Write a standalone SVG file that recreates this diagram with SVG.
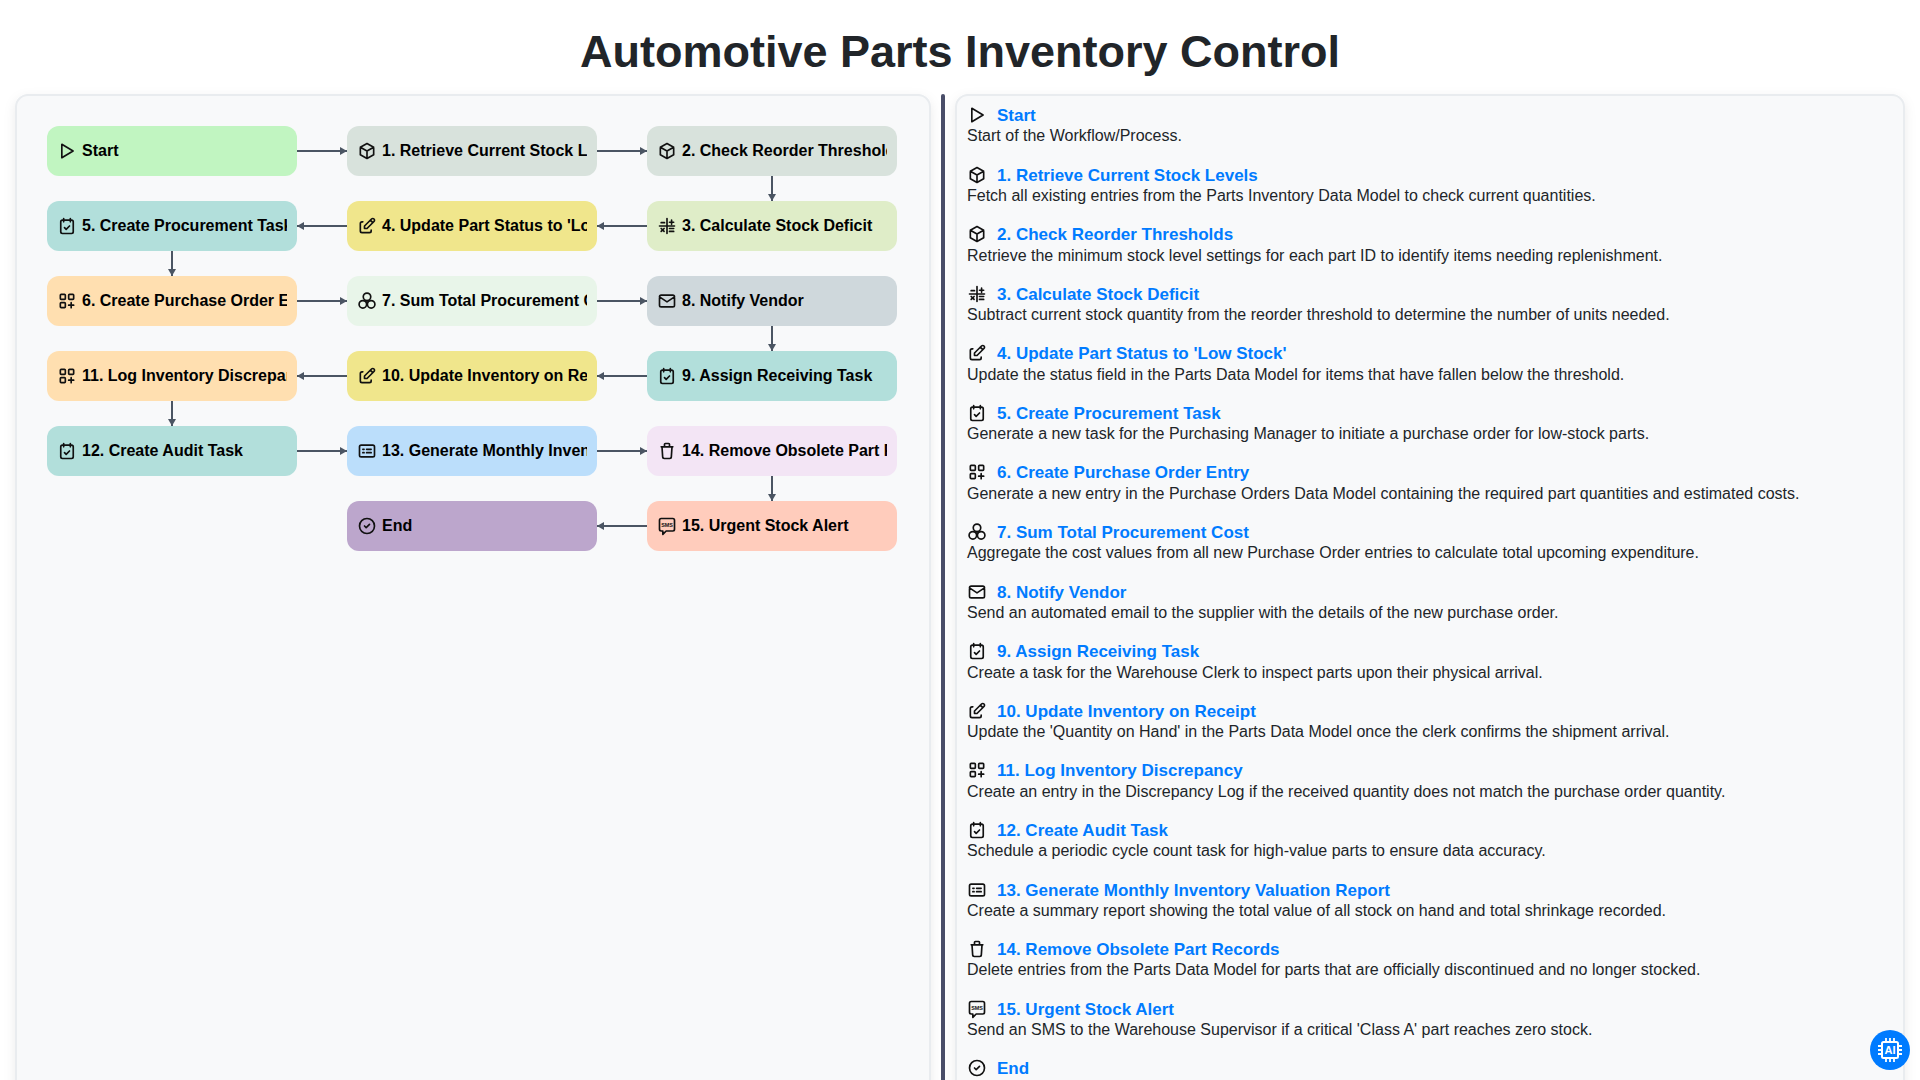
<svg xmlns="http://www.w3.org/2000/svg" width="1920" height="1080" viewBox="0 0 1920 1080">
<style>
text{font-family:"Liberation Sans",Arial,sans-serif}
.title{font-size:45px;font-weight:700;fill:#212529;text-anchor:middle}
.panel{fill:#f8f9fa;stroke:#e9ecef;stroke-width:2;filter:url(#sh)}
.lbl{font-size:16px;font-weight:700;fill:#000}
.h{font-size:17px;font-weight:700;fill:#007bff}
.d{font-size:16px;fill:#212529}
.ic{fill:none;stroke:#111;stroke-width:2;stroke-linecap:round;stroke-linejoin:round}
.c{fill:none;stroke:#4b5563;stroke-width:2}
</style>
<defs>
<filter id="sh" x="-5%" y="-5%" width="110%" height="110%"><feDropShadow dx="0" dy="4" stdDeviation="6" flood-color="#000" flood-opacity="0.08"/></filter>
<marker id="ah" markerUnits="userSpaceOnUse" viewBox="0 0 7 8" refX="7" refY="4" markerWidth="7" markerHeight="8" orient="auto"><path d="M0 0L7 4L0 8z" fill="#4b5563"/></marker>
<clipPath id="c1"><rect x="47" y="126" width="240" height="425"/></clipPath>
<clipPath id="c2"><rect x="347" y="126" width="240" height="425"/></clipPath>
<clipPath id="c3"><rect x="647" y="126" width="240" height="425"/></clipPath>
<symbol id="i-play" viewBox="0 0 24 24"><path class="ic" d="M5.800 4v16l13.500-8z"/></symbol>
<symbol id="i-box" viewBox="0 0 24 24"><path class="ic" d="M12 3l8 4.500v9L12 21l-8-4.500v-9zM12 12l8-4.500M12 12v9M12 12L4 7.500"/></symbol>
<symbol id="i-calc" viewBox="0 0 24 24"><path class="ic" d="M3 12h18M12 3v18M5 8h4M15 7.500h5M17.500 5v5M15 15h5M15 18.500h5M5 15l3.500 3.500M8.500 15L5 18.500"/></symbol>
<symbol id="i-edit" viewBox="0 0 24 24"><path class="ic" d="M7 7H6a2 2 0 0 0-2 2v9a2 2 0 0 0 2 2h9a2 2 0 0 0 2-2v-1M20.385 6.585a2.100 2.100 0 0 0-2.970-2.970L9 12v3h3zM16 5l3 3"/></symbol>
<symbol id="i-cal" viewBox="0 0 24 24"><path class="ic" d="M4.500 7a2 2 0 0 1 2-2h11a2 2 0 0 1 2 2v12a2 2 0 0 1-2 2h-11a2 2 0 0 1-2-2zM16 3v4M8 3v4M9 14l2 2 4-4"/></symbol>
<symbol id="i-cat" viewBox="0 0 24 24"><path class="ic" d="M5 4h4a1 1 0 0 1 1 1v4a1 1 0 0 1-1 1H5a1 1 0 0 1-1-1V5a1 1 0 0 1 1-1zM15 4h4a1 1 0 0 1 1 1v4a1 1 0 0 1-1 1h-4a1 1 0 0 1-1-1V5a1 1 0 0 1 1-1zM5 14h4a1 1 0 0 1 1 1v4a1 1 0 0 1-1 1H5a1 1 0 0 1-1-1v-4a1 1 0 0 1 1-1zM14 17h6M17 14v6"/></symbol>
<symbol id="i-sum" viewBox="0 0 24 24"><g class="ic"><circle cx="12" cy="7" r="4.500"/><circle cx="7" cy="16" r="4.500"/><circle cx="17" cy="16" r="4.500"/><path d="M12 11.500v5"/></g></symbol>
<symbol id="i-mail" viewBox="0 0 24 24"><path class="ic" d="M3 7a2 2 0 0 1 2-2h14a2 2 0 0 1 2 2v10a2 2 0 0 1-2 2H5a2 2 0 0 1-2-2zM3 7l9 6 9-6"/></symbol>
<symbol id="i-rep" viewBox="0 0 24 24"><path class="ic" d="M3 7a2 2 0 0 1 2-2h14a2 2 0 0 1 2 2v10a2 2 0 0 1-2 2H5a2 2 0 0 1-2-2zM7 10h1.500M11.500 10H17M7 14h1.500M11.500 14H17"/></symbol>
<symbol id="i-trash" viewBox="0 0 24 24"><path class="ic" d="M5 7h14M6 7l.800 12a2 2 0 0 0 2 2h6.400a2 2 0 0 0 2-2L18 7M9 7V4a1 1 0 0 1 1-1h4a1 1 0 0 1 1 1v3"/></symbol>
<symbol id="i-sms" viewBox="0 0 24 24"><path class="ic" d="M5 3h14a2 2 0 0 1 2 2v11a2 2 0 0 1-2 2h-8l-4 4v-4H5a2 2 0 0 1-2-2V5a2 2 0 0 1 2-2z"/><text x="12" y="13" text-anchor="middle" font-size="6.500" font-weight="700" fill="#111">SMS</text></symbol>
<symbol id="i-check" viewBox="0 0 24 24"><path class="ic" d="M3 12a9 9 0 1 0 18 0a9 9 0 1 0-18 0M9 12l2 2 4-4"/></symbol>
</defs>
<rect width="1920" height="1080" fill="#fff"/>
<text class="title" x="960" y="67">Automotive Parts Inventory Control</text>
<rect class="panel" x="16" y="95" width="914" height="1040" rx="12"/>
<rect x="941" y="94" width="4" height="1000" rx="2" fill="#4a4e69"/>
<rect class="panel" x="956" y="95" width="948" height="1040" rx="12"/>
<g id="connectors">
<path class="c" marker-end="url(#ah)" d="M297 151H347"/>
<path class="c" marker-end="url(#ah)" d="M597 151H647"/>
<path class="c" marker-end="url(#ah)" d="M772 176V201"/>
<path class="c" marker-end="url(#ah)" d="M647 226H597"/>
<path class="c" marker-end="url(#ah)" d="M347 226H297"/>
<path class="c" marker-end="url(#ah)" d="M172 251V276"/>
<path class="c" marker-end="url(#ah)" d="M297 301H347"/>
<path class="c" marker-end="url(#ah)" d="M597 301H647"/>
<path class="c" marker-end="url(#ah)" d="M772 326V351"/>
<path class="c" marker-end="url(#ah)" d="M647 376H597"/>
<path class="c" marker-end="url(#ah)" d="M347 376H297"/>
<path class="c" marker-end="url(#ah)" d="M172 401V426"/>
<path class="c" marker-end="url(#ah)" d="M297 451H347"/>
<path class="c" marker-end="url(#ah)" d="M597 451H647"/>
<path class="c" marker-end="url(#ah)" d="M772 476V501"/>
<path class="c" marker-end="url(#ah)" d="M647 526H597"/>
</g>
<g id="n-start"><rect x="47" y="126" width="250" height="50" rx="12" fill="#c1f5c1"/><use href="#i-play" x="57" y="141" width="20" height="20"/><text class="lbl" x="82" y="156" clip-path="url(#c1)">Start</text></g>
<g id="n-1"><rect x="347" y="126" width="250" height="50" rx="12" fill="#d8e2dc"/><use href="#i-box" x="357" y="141" width="20" height="20"/><text class="lbl" x="382" y="156" clip-path="url(#c2)">1. Retrieve Current Stock Levels</text></g>
<g id="n-2"><rect x="647" y="126" width="250" height="50" rx="12" fill="#d8e2dc"/><use href="#i-box" x="657" y="141" width="20" height="20"/><text class="lbl" x="682" y="156" clip-path="url(#c3)">2. Check Reorder Thresholds</text></g>
<g id="n-3"><rect x="647" y="201" width="250" height="50" rx="12" fill="#dfedc8"/><use href="#i-calc" x="657" y="216" width="20" height="20"/><text class="lbl" x="682" y="231" clip-path="url(#c3)">3. Calculate Stock Deficit</text></g>
<g id="n-4"><rect x="347" y="201" width="250" height="50" rx="12" fill="#f0e68c"/><use href="#i-edit" x="357" y="216" width="20" height="20"/><text class="lbl" x="382" y="231" clip-path="url(#c2)">4. Update Part Status to 'Low Stock'</text></g>
<g id="n-5"><rect x="47" y="201" width="250" height="50" rx="12" fill="#b2dfdb"/><use href="#i-cal" x="57" y="216" width="20" height="20"/><text class="lbl" x="82" y="231" clip-path="url(#c1)">5. Create Procurement Task</text></g>
<g id="n-6"><rect x="47" y="276" width="250" height="50" rx="12" fill="#ffdfb0"/><use href="#i-cat" x="57" y="291" width="20" height="20"/><text class="lbl" x="82" y="306" clip-path="url(#c1)">6. Create Purchase Order Entry</text></g>
<g id="n-7"><rect x="347" y="276" width="250" height="50" rx="12" fill="#e8f5e9"/><use href="#i-sum" x="357" y="291" width="20" height="20"/><text class="lbl" x="382" y="306" clip-path="url(#c2)">7. Sum Total Procurement Cost</text></g>
<g id="n-8"><rect x="647" y="276" width="250" height="50" rx="12" fill="#cfd8dc"/><use href="#i-mail" x="657" y="291" width="20" height="20"/><text class="lbl" x="682" y="306" clip-path="url(#c3)">8. Notify Vendor</text></g>
<g id="n-9"><rect x="647" y="351" width="250" height="50" rx="12" fill="#b2dfdb"/><use href="#i-cal" x="657" y="366" width="20" height="20"/><text class="lbl" x="682" y="381" clip-path="url(#c3)">9. Assign Receiving Task</text></g>
<g id="n-10"><rect x="347" y="351" width="250" height="50" rx="12" fill="#f0e68c"/><use href="#i-edit" x="357" y="366" width="20" height="20"/><text class="lbl" x="382" y="381" clip-path="url(#c2)">10. Update Inventory on Receipt</text></g>
<g id="n-11"><rect x="47" y="351" width="250" height="50" rx="12" fill="#ffdfb0"/><use href="#i-cat" x="57" y="366" width="20" height="20"/><text class="lbl" x="82" y="381" clip-path="url(#c1)">11. Log Inventory Discrepancy</text></g>
<g id="n-12"><rect x="47" y="426" width="250" height="50" rx="12" fill="#b2dfdb"/><use href="#i-cal" x="57" y="441" width="20" height="20"/><text class="lbl" x="82" y="456" clip-path="url(#c1)">12. Create Audit Task</text></g>
<g id="n-13"><rect x="347" y="426" width="250" height="50" rx="12" fill="#bbdefb"/><use href="#i-rep" x="357" y="441" width="20" height="20"/><text class="lbl" x="382" y="456" clip-path="url(#c2)">13. Generate Monthly Inventory</text></g>
<g id="n-14"><rect x="647" y="426" width="250" height="50" rx="12" fill="#f3e5f5"/><use href="#i-trash" x="657" y="441" width="20" height="20"/><text class="lbl" x="682" y="456" clip-path="url(#c3)">14. Remove Obsolete Part Records</text></g>
<g id="n-15"><rect x="647" y="501" width="250" height="50" rx="12" fill="#ffccbc"/><use href="#i-sms" x="657" y="516" width="20" height="20"/><text class="lbl" x="682" y="531" clip-path="url(#c3)">15. Urgent Stock Alert</text></g>
<g id="n-end"><rect x="347" y="501" width="250" height="50" rx="12" fill="#bca6cc"/><use href="#i-check" x="357" y="516" width="20" height="20"/><text class="lbl" x="382" y="531" clip-path="url(#c2)">End</text></g>
<g id="legend">
<use href="#i-play" x="967" y="105" width="20" height="20"/><text class="h" x="997" y="121">Start</text><text class="d" x="967" y="141">Start of the Workflow/Process.</text>
<use href="#i-box" x="967" y="165" width="20" height="20"/><text class="h" x="997" y="181">1. Retrieve Current Stock Levels</text><text class="d" x="967" y="201">Fetch all existing entries from the Parts Inventory Data Model to check current quantities.</text>
<use href="#i-box" x="967" y="224" width="20" height="20"/><text class="h" x="997" y="240">2. Check Reorder Thresholds</text><text class="d" x="967" y="261">Retrieve the minimum stock level settings for each part ID to identify items needing replenishment.</text>
<use href="#i-calc" x="967" y="284" width="20" height="20"/><text class="h" x="997" y="300">3. Calculate Stock Deficit</text><text class="d" x="967" y="320">Subtract current stock quantity from the reorder threshold to determine the number of units needed.</text>
<use href="#i-edit" x="967" y="343" width="20" height="20"/><text class="h" x="997" y="359">4. Update Part Status to 'Low Stock'</text><text class="d" x="967" y="380">Update the status field in the Parts Data Model for items that have fallen below the threshold.</text>
<use href="#i-cal" x="967" y="403" width="20" height="20"/><text class="h" x="997" y="419">5. Create Procurement Task</text><text class="d" x="967" y="439">Generate a new task for the Purchasing Manager to initiate a purchase order for low-stock parts.</text>
<use href="#i-cat" x="967" y="462" width="20" height="20"/><text class="h" x="997" y="478">6. Create Purchase Order Entry</text><text class="d" x="967" y="499">Generate a new entry in the Purchase Orders Data Model containing the required part quantities and estimated costs.</text>
<use href="#i-sum" x="967" y="522" width="20" height="20"/><text class="h" x="997" y="538">7. Sum Total Procurement Cost</text><text class="d" x="967" y="558">Aggregate the cost values from all new Purchase Order entries to calculate total upcoming expenditure.</text>
<use href="#i-mail" x="967" y="582" width="20" height="20"/><text class="h" x="997" y="598">8. Notify Vendor</text><text class="d" x="967" y="618">Send an automated email to the supplier with the details of the new purchase order.</text>
<use href="#i-cal" x="967" y="641" width="20" height="20"/><text class="h" x="997" y="657">9. Assign Receiving Task</text><text class="d" x="967" y="678">Create a task for the Warehouse Clerk to inspect parts upon their physical arrival.</text>
<use href="#i-edit" x="967" y="701" width="20" height="20"/><text class="h" x="997" y="717">10. Update Inventory on Receipt</text><text class="d" x="967" y="737">Update the 'Quantity on Hand' in the Parts Data Model once the clerk confirms the shipment arrival.</text>
<use href="#i-cat" x="967" y="760" width="20" height="20"/><text class="h" x="997" y="776">11. Log Inventory Discrepancy</text><text class="d" x="967" y="797">Create an entry in the Discrepancy Log if the received quantity does not match the purchase order quantity.</text>
<use href="#i-cal" x="967" y="820" width="20" height="20"/><text class="h" x="997" y="836">12. Create Audit Task</text><text class="d" x="967" y="856">Schedule a periodic cycle count task for high-value parts to ensure data accuracy.</text>
<use href="#i-rep" x="967" y="880" width="20" height="20"/><text class="h" x="997" y="896">13. Generate Monthly Inventory Valuation Report</text><text class="d" x="967" y="916">Create a summary report showing the total value of all stock on hand and total shrinkage recorded.</text>
<use href="#i-trash" x="967" y="939" width="20" height="20"/><text class="h" x="997" y="955">14. Remove Obsolete Part Records</text><text class="d" x="967" y="975">Delete entries from the Parts Data Model for parts that are officially discontinued and no longer stocked.</text>
<use href="#i-sms" x="967" y="999" width="20" height="20"/><text class="h" x="997" y="1015">15. Urgent Stock Alert</text><text class="d" x="967" y="1035">Send an SMS to the Warehouse Supervisor if a critical 'Class A' part reaches zero stock.</text>
<use href="#i-check" x="967" y="1058" width="20" height="20"/><text class="h" x="997" y="1074">End</text>
</g>
<g id="ai-badge">
<circle cx="1890" cy="1050" r="20" fill="#007bff"/>
<rect x="1882" y="1042" width="16" height="16" rx="1.500" fill="none" stroke="#fff" stroke-width="2"/>
<path d="M1886 1038v4M1890 1038v4M1894 1038v4M1886 1058v4M1890 1058v4M1894 1058v4M1878 1046h4M1878 1050h4M1878 1054h4M1898 1046h4M1898 1050h4M1898 1054h4" stroke="#fff" stroke-width="1.800" fill="none"/>
<text x="1890" y="1054" text-anchor="middle" font-size="11" font-weight="700" fill="#fff">AI</text>
</g>
</svg>
